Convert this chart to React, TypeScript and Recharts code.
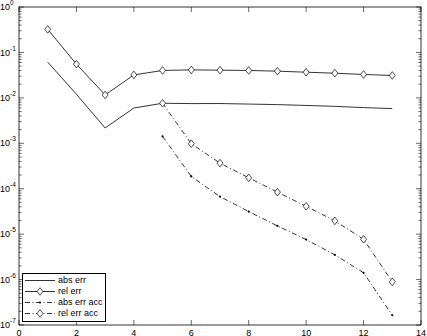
import React from 'react';
import { LineChart, Line, XAxis, YAxis, Legend } from 'recharts';

// values (log y axis)
const iterations = [1, 2, 3, 4, 5, 6, 7, 8, 9, 10, 11, 12, 13];
const absErr = [0.0611, 0.012, 0.00217, 0.00598, 0.0076, 0.00748, 0.0075, 0.0073, 0.0071, 0.0068, 0.0065, 0.0061, 0.0058];
const relErr = [0.322, 0.0552, 0.0116, 0.032, 0.0401, 0.0413, 0.0407, 0.0401, 0.0387, 0.0367, 0.0349, 0.0327, 0.0311];
const absErrAcc = [null, null, null, null, 1.42e-3, 1.86e-4, 6.7e-5, 3.14e-5, 1.52e-5, 7.6e-6, 3.5e-6, 1.41e-6, 1.64e-7];
const relErrAcc = [null, null, null, null, 0.0076, 9.8e-4, 3.66e-4, 1.74e-4, 8.4e-5, 4.1e-5, 1.96e-5, 7.7e-6, 8.9e-7];

const xTicks = [0, 2, 4, 6, 8, 10, 12, 14];
const decades = [-7, -6, -5, -4, -3, -2, -1, 0];

const seriesNames = ['abs err', 'rel err', 'abs err acc', 'rel err acc'];

const data = iterations.map((x, i) => ({
  x,
  absErr: absErr[i],
  relErr: relErr[i],
  absErrAcc: absErrAcc[i],
  relErrAcc: relErrAcc[i],
}));

// major + minor log ticks
const yTicks: number[] = [];
decades.forEach((d) => {
  if (d === 0) {
    yTicks.push(1);
    return;
  }
  for (let m = 1; m <= 9; m++) yTicks.push(Number((m * Math.pow(10, d)).toPrecision(3)));
});

const DASH_DOT = '5 2.5 1 2.5';
const FONT = 'Arial, "Liberation Sans", Helvetica, sans-serif';

const isMajor = (v: number) => Math.abs(Math.log10(v) - Math.round(Math.log10(v))) < 1e-6;

const LeftTick = (props: any) => {
  const { x, y, payload } = props;
  const v = payload.value;
  const major = isMajor(v);
  return (
    <g>
      <line x1={x} x2={x + (major ? 5 : 2.5)} y1={y} y2={y} stroke="#000" strokeWidth={0.6} />
      {major && (
        <text x={x - 19} y={y + 3.2} fontSize={9} fontFamily={FONT} fill="#000">
          10
          <tspan dy={-5} fontSize={6.5}>{Math.round(Math.log10(v))}</tspan>
        </text>
      )}
    </g>
  );
};

const RightTick = (props: any) => {
  const { x, y, payload } = props;
  const major = isMajor(payload.value);
  return <line x1={x} x2={x - (major ? 5 : 2.5)} y1={y} y2={y} stroke="#000" strokeWidth={0.6} />;
};

const BottomTick = (props: any) => {
  const { x, y, payload } = props;
  return (
    <g>
      <line x1={x} x2={x} y1={y} y2={y - 5} stroke="#000" strokeWidth={0.6} />
      <text x={x} y={y + 10.5} fontSize={9} fontFamily={FONT} textAnchor="middle" fill="#000">
        {payload.value}
      </text>
    </g>
  );
};

const TopTick = (props: any) => {
  const { x, y } = props;
  return <line x1={x} x2={x} y1={y} y2={y + 5} stroke="#000" strokeWidth={0.6} />;
};

const Diamond = (props: any) => {
  const { cx, cy } = props;
  if (cx == null || cy == null || props.value == null) return <g />;
  return (
    <path
      d={`M${cx},${cy - 3.8}L${cx + 3},${cy}L${cx},${cy + 3.8}L${cx - 3},${cy}Z`}
      fill="#fff"
      stroke="#000"
      strokeWidth={0.7}
    />
  );
};

const SmallDot = (props: any) => {
  const { cx, cy } = props;
  if (cx == null || cy == null || props.value == null) return <g />;
  return <circle cx={cx} cy={cy} r={1.1} fill="#000" />;
};

const renderLegend = () => {
  const rows = [
    { dash: undefined, marker: 'none' },
    { dash: undefined, marker: 'diamond' },
    { dash: DASH_DOT, marker: 'dot' },
    { dash: DASH_DOT, marker: 'diamond' },
  ];
  return (
    <div
      style={{
        border: '1px solid #000',
        background: '#fff',
        width: 82,
        height: 46,
        boxSizing: 'content-box',
        paddingTop: 1,
      }}
    >
      {rows.map((r, i) => (
        <div key={i} style={{ display: 'flex', alignItems: 'center', height: 11 }}>
          <svg width={35} height={11} style={{ display: 'block' }}>
            <line x1={2} x2={32} y1={5.5} y2={5.5} stroke="#000" strokeWidth={0.8} strokeDasharray={r.dash} />
            {r.marker === 'diamond' && (
              <path d="M17,1.7L20,5.5L17,9.3L14,5.5Z" fill="#fff" stroke="#000" strokeWidth={0.7} />
            )}
            {r.marker === 'dot' && <circle cx={17} cy={5.5} r={1.1} fill="#000" />}
          </svg>
          <span style={{ fontSize: 9, fontFamily: FONT, color: '#000', lineHeight: '11px', whiteSpace: 'nowrap' }}>
            {seriesNames[i]}
          </span>
        </div>
      ))}
    </div>
  );
};

const axisLine = { stroke: '#000', strokeWidth: 0.8 };

export default function App() {
  return (
    <div style={{ position: 'absolute', left: 0, top: 0, background: '#fff' }}>
      <LineChart width={427} height={336} data={data} margin={{ top: 6, right: 5, bottom: 10, left: 18 }}>
        <XAxis
          xAxisId="bottom"
          dataKey="x"
          type="number"
          domain={[0, 14]}
          ticks={xTicks}
          interval={0}
          height={1}
          tickLine={false}
          tickSize={0}
          tickMargin={0}
          axisLine={axisLine}
          tick={<BottomTick />}
          allowDataOverflow
        />
        <XAxis
          xAxisId="top"
          orientation="top"
          dataKey="x"
          type="number"
          domain={[0, 14]}
          ticks={xTicks}
          interval={0}
          height={1}
          tickLine={false}
          tickSize={0}
          tickMargin={0}
          axisLine={axisLine}
          tick={<TopTick />}
          allowDataOverflow
        />
        <YAxis
          yAxisId="left"
          scale="log"
          type="number"
          domain={[1e-7, 1]}
          ticks={yTicks}
          interval={0}
          width={1}
          tickLine={false}
          tickSize={0}
          tickMargin={0}
          axisLine={axisLine}
          tick={<LeftTick />}
          allowDataOverflow
        />
        <YAxis
          yAxisId="right"
          orientation="right"
          scale="log"
          type="number"
          domain={[1e-7, 1]}
          ticks={yTicks}
          interval={0}
          width={1}
          tickLine={false}
          tickSize={0}
          tickMargin={0}
          axisLine={axisLine}
          tick={<RightTick />}
          allowDataOverflow
        />
        <Legend
          layout="vertical"
          align="center"
          verticalAlign="middle"
          content={renderLegend}
          wrapperStyle={{ left: 22, top: 273, width: 84, height: 48 }}
        />
        <Line
          xAxisId="bottom"
          yAxisId="left"
          name={seriesNames[0]}
          dataKey="absErr"
          type="linear"
          stroke="#000"
          strokeWidth={0.8}
          dot={false}
          activeDot={false}
          isAnimationActive={false}
        />
        <Line
          xAxisId="bottom"
          yAxisId="left"
          name={seriesNames[1]}
          dataKey="relErr"
          type="linear"
          stroke="#000"
          strokeWidth={0.8}
          dot={<Diamond />}
          activeDot={false}
          isAnimationActive={false}
        />
        <Line
          xAxisId="bottom"
          yAxisId="left"
          name={seriesNames[2]}
          dataKey="absErrAcc"
          type="linear"
          stroke="#000"
          strokeWidth={0.8}
          strokeDasharray={DASH_DOT}
          dot={<SmallDot />}
          activeDot={false}
          isAnimationActive={false}
        />
        <Line
          xAxisId="bottom"
          yAxisId="left"
          name={seriesNames[3]}
          dataKey="relErrAcc"
          type="linear"
          stroke="#000"
          strokeWidth={0.8}
          strokeDasharray={DASH_DOT}
          dot={<Diamond />}
          activeDot={false}
          isAnimationActive={false}
        />
      </LineChart>
    </div>
  );
}
